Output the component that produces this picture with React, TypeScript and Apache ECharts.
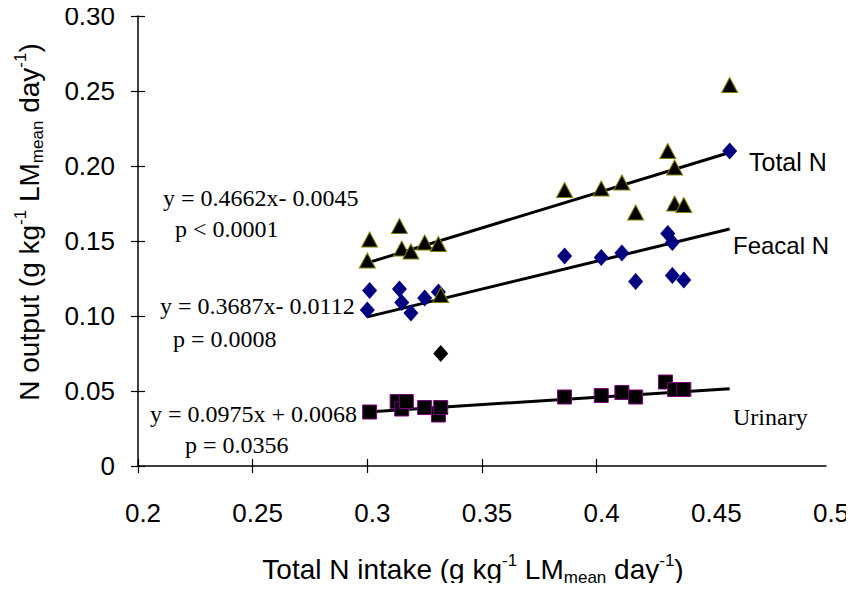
import React, { useEffect, useRef } from "react";
import * as echarts from "echarts";

// ---- Data ----
const xTicks = [0.2, 0.25, 0.3, 0.35, 0.4];

const totalX = [0.300, 0.301, 0.314, 0.315, 0.319, 0.325, 0.331, 0.332, 0.386, 0.402, 0.411, 0.417, 0.431, 0.434, 0.434, 0.438, 0.458];
const totalY = [0.137, 0.151, 0.160, 0.145, 0.143, 0.149, 0.148, 0.114, 0.184, 0.185, 0.189, 0.169, 0.210, 0.199, 0.175, 0.174, 0.254];

const feacalX = [0.300, 0.301, 0.314, 0.315, 0.319, 0.325, 0.331, 0.386, 0.402, 0.411, 0.417, 0.431, 0.433, 0.433, 0.438, 0.458];
const feacalY = [0.104, 0.117, 0.118, 0.109, 0.102, 0.112, 0.116, 0.140, 0.139, 0.142, 0.123, 0.155, 0.149, 0.127, 0.124, 0.210];

const outlierX = [0.332];
const outlierY = [0.075];

const urinaryX = [0.301, 0.313, 0.315, 0.317, 0.325, 0.331, 0.332, 0.386, 0.402, 0.411, 0.417, 0.430, 0.434, 0.438];
const urinaryY = [0.036, 0.043, 0.038, 0.043, 0.039, 0.034, 0.039, 0.046, 0.047, 0.049, 0.046, 0.056, 0.051, 0.051];

const fitX = [0.300, 0.458];
const totalFitY = [0.1354, 0.209];
const feacalFitY = [0.0994, 0.158];
const urinaryFitY = [0.036, 0.0515];

const equations = [
  { eq: "y = 0.4662x- 0.0045", p: "p < 0.0001" },
  { eq: "y = 0.3687x- 0.0112", p: "p = 0.0008" },
  { eq: "y = 0.0975x + 0.0068", p: "p = 0.0356" },
];
const seriesLabels = ["Total N", "Feacal N", "Urinary"];

const zip = (xs: number[], ys: number[]) => xs.map((x, i) => [x, ys[i]]);

const SANS = "'Liberation Sans', Arial, sans-serif";
const SERIF = "'Liberation Serif', 'Times New Roman', serif";

export default function App() {
  const ref = useRef<HTMLDivElement>(null);
  useEffect(() => {
    if (!ref.current) return;
    const chart = echarts.init(ref.current, null, { renderer: "svg" });
    const richName = {
      n: { fontSize: 28, fontFamily: SANS, color: "#000" },
      sup: { fontSize: 17, fontFamily: SANS, color: "#000", verticalAlign: "top", lineHeight: 34 },
      sub: { fontSize: 17, fontFamily: SANS, color: "#000", verticalAlign: "bottom", lineHeight: 24, padding: [12, 0, 0, 0] },
    };
    const eqTexts: any[] = [];
    const eqPos = [
      { ex: 163, ey: 199, px: 175, py: 230 },
      { ex: 160, ey: 307, px: 173, py: 340 },
      { ex: 150, ey: 415, px: 185, py: 446 },
    ];
    equations.forEach((e, i) => {
      eqTexts.push({
        type: "text", left: eqPos[i].ex, top: eqPos[i].ey - 13,
        style: { text: e.eq, font: `24px ${SERIF}`, fill: "#000" }, z: 10,
      });
      eqTexts.push({
        type: "text", left: eqPos[i].px, top: eqPos[i].py - 13,
        style: { text: e.p, font: `24px ${SERIF}`, fill: "#000" }, z: 10,
      });
    });
    const labelPos = [
      { x: 749, y: 162, font: `25px ${SANS}` },
      { x: 733, y: 246, font: `24px ${SANS}` },
      { x: 733, y: 418, font: `24px ${SERIF}` },
    ];
    seriesLabels.forEach((t, i) => {
      eqTexts.push({
        type: "text", left: labelPos[i].x, top: labelPos[i].y - 13,
        style: { text: t, font: labelPos[i].font, fill: "#000" }, z: 10,
      });
    });

    const lineStyle = { color: "#000", width: 3 };
    chart.setOption({
      animation: false,
      backgroundColor: "#fff",
      grid: { left: 138, right: 28, top: 16, bottom: 125, containLabel: false },
      xAxis: [
        {
          type: "value", min: 0.2, max: 0.5, interval: 0.05,
          name: "{n|Total N intake (g kg}{sup|-1}{n| LM}{sub|mean}{n| day}{sup|-1}{n|)}",
          nameLocation: "middle", nameGap: 86,
          nameTextStyle: { rich: richName, padding: [0, 18, 0, 0] },
          axisLine: { lineStyle: { color: "#000", width: 1.5 } },
          axisTick: { length: 7, customValues: xTicks, lineStyle: { color: "#000", width: 1.2 } },
          axisLabel: { fontSize: 26, fontFamily: SANS, color: "#000", margin: 34, padding: [0, 0, 0, 10] },
          splitLine: { show: false },
        },
        {
          type: "value", min: 0.2, max: 0.5, interval: 0.05, position: "bottom",
          axisLine: { show: false },
          axisTick: { inside: true, length: 7, customValues: xTicks, lineStyle: { color: "#000", width: 1.2 } },
          axisLabel: { show: false },
          splitLine: { show: false },
        },
      ],
      yAxis: [
        {
          type: "value", min: 0, max: 0.3, interval: 0.05,
          name: "{n|N output (g kg}{sup|-1}{n| LM}{sub|mean}{n| day}{sup|-1}{n|)}",
          nameLocation: "middle", nameGap: 92, nameRotate: 90,
          nameTextStyle: { rich: richName, padding: [0, 0, 0, 38] },
          axisLine: { lineStyle: { color: "#000", width: 1.5 } },
          axisTick: { length: 7, lineStyle: { color: "#000", width: 1.2 } },
          axisLabel: {
            fontSize: 26, fontFamily: SANS, color: "#000", margin: 23,
            formatter: (v: number) => (v === 0 ? "0" : v.toFixed(2)),
          },
          splitLine: { show: false },
        },
        {
          type: "value", min: 0, max: 0.3, interval: 0.05, position: "left",
          axisLine: { show: false },
          axisTick: { inside: true, length: 7, lineStyle: { color: "#000", width: 1.2 } },
          axisLabel: { show: false },
          splitLine: { show: false },
        },
      ],
      graphic: eqTexts,
      series: [
        {
          type: "line", data: zip(fitX, totalFitY), showSymbol: false, symbol: "none",
          lineStyle, z: 3,
        },
        {
          type: "line", data: zip(fitX, feacalFitY), showSymbol: false, symbol: "none",
          lineStyle, z: 3,
        },
        {
          type: "line", data: zip(fitX, urinaryFitY), showSymbol: false, symbol: "none",
          lineStyle, z: 3,
        },
        {
          name: "Urinary", type: "scatter", data: zip(urinaryX, urinaryY),
          symbol: "rect", symbolSize: 14,
          itemStyle: { color: "#000", borderColor: "#800080", borderWidth: 1, opacity: 1 }, z: 4,
        },
        {
          name: "Feacal N", type: "scatter", data: zip(feacalX, feacalY),
          symbol: "diamond", symbolSize: [15, 17],
          itemStyle: { color: "#000080", opacity: 1 }, z: 4,
        },
        {
          name: "Feacal outlier", type: "scatter", data: zip(outlierX, outlierY),
          symbol: "diamond", symbolSize: [15, 17],
          itemStyle: { color: "#000", opacity: 1 }, z: 4,
        },
        {
          name: "Total N", type: "scatter", data: zip(totalX, totalY),
          symbol: "triangle", symbolSize: [16, 15],
          itemStyle: { color: "#000", borderColor: "#808000", borderWidth: 1, opacity: 1 }, z: 5,
        },
      ],
    });
    return () => chart.dispose();
  }, []);
  return <div ref={ref} style={{ width: 854, height: 591, margin: -8 }} />;
}
